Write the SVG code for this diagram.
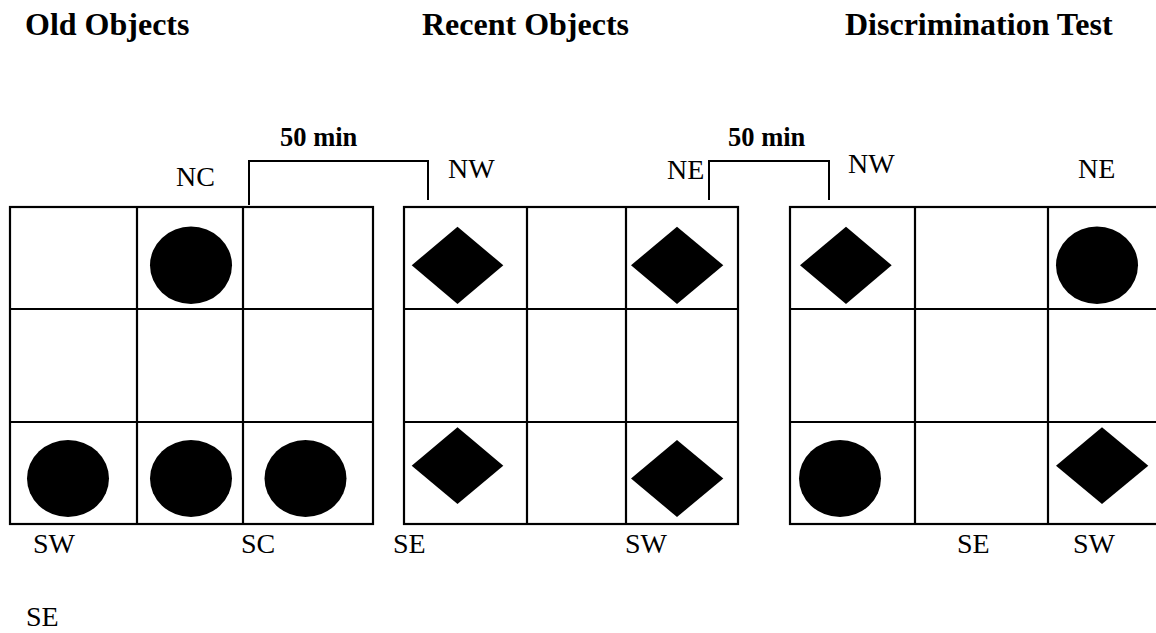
<svg xmlns="http://www.w3.org/2000/svg" width="1156" height="633" viewBox="0 0 1156 633">
<style>
.title{font-family:"Liberation Serif","Times New Roman",serif;font-weight:bold;font-size:32px;fill:#000}
.lbl{font-family:"Liberation Serif","Times New Roman",serif;font-size:28px;fill:#000}
.time{font-family:"Liberation Serif","Times New Roman",serif;font-weight:bold;font-size:26.5px;fill:#000}
.grid{fill:none;stroke:#000;stroke-width:2.2}
.obj{fill:#000}
.conn{fill:none;stroke:#000;stroke-width:2}
</style>
<rect width="1156" height="633" fill="#fff"/>
<g id="titles">
<text class="title" x="25" y="35">Old Objects</text>
<text class="title" x="422" y="35">Recent Objects</text>
<text class="title" x="845" y="35">Discrimination Test</text>
</g>
<g id="connectors">
<polyline class="conn" points="249,205 249,161 428,161 428,200"/>
<polyline class="conn" points="709,200 709,161 829,161 829,200"/>
<text class="time" x="280" y="146">50 min</text>
<text class="time" x="728" y="146">50 min</text>
</g>
<g id="old-objects">
<rect class="grid" x="10" y="207" width="363" height="317"/>
<line class="grid" x1="137" y1="207" x2="137" y2="524"/>
<line class="grid" x1="243" y1="207" x2="243" y2="524"/>
<line class="grid" x1="10" y1="309" x2="373" y2="309"/>
<line class="grid" x1="10" y1="422" x2="373" y2="422"/>
<ellipse class="obj" cx="191" cy="265.3" rx="41" ry="38.7"/>
<ellipse class="obj" cx="68" cy="478.5" rx="41" ry="38.5"/>
<ellipse class="obj" cx="191" cy="478.5" rx="41" ry="38.5"/>
<ellipse class="obj" cx="305.5" cy="478.5" rx="41" ry="38.5"/>
<text class="lbl" x="176" y="186">NC</text>
<text class="lbl" x="33" y="553">SW</text>
<text class="lbl" x="241" y="553">SC</text>
<text class="lbl" x="26" y="626">SE</text>
</g>
<g id="recent-objects">
<rect class="grid" x="404" y="207" width="334" height="317"/>
<line class="grid" x1="527" y1="207" x2="527" y2="524"/>
<line class="grid" x1="626" y1="207" x2="626" y2="524"/>
<line class="grid" x1="404" y1="309" x2="738" y2="309"/>
<line class="grid" x1="404" y1="422" x2="738" y2="422"/>
<polygon class="obj" points="411.7,265.3 457.5,226.7 503.3,265.3 457.5,304"/>
<polygon class="obj" points="631,265.3 677,226.7 723.3,265.3 677,304"/>
<polygon class="obj" points="411.7,465.7 457.5,427.3 503.3,465.7 457.5,504"/>
<polygon class="obj" points="631,478.5 677,440 723.3,478.5 677,517"/>
<text class="lbl" x="448" y="178">NW</text>
<text class="lbl" x="667" y="179">NE</text>
<text class="lbl" x="393" y="553">SE</text>
<text class="lbl" x="625" y="553">SW</text>
</g>
<g id="discrimination-test">
<rect class="grid" x="790" y="207" width="368" height="317"/>
<line class="grid" x1="915" y1="207" x2="915" y2="524"/>
<line class="grid" x1="1048" y1="207" x2="1048" y2="524"/>
<line class="grid" x1="790" y1="309" x2="1158" y2="309"/>
<line class="grid" x1="790" y1="422" x2="1158" y2="422"/>
<polygon class="obj" points="800,265.3 846,226.7 891.7,265.3 846,304"/>
<ellipse class="obj" cx="1097" cy="265.3" rx="41" ry="38.7"/>
<ellipse class="obj" cx="840" cy="478.5" rx="41" ry="38.5"/>
<polygon class="obj" points="1056,465.7 1102,427.3 1148.3,465.7 1102,504"/>
<text class="lbl" x="848" y="173">NW</text>
<text class="lbl" x="1078" y="178">NE</text>
<text class="lbl" x="957" y="553">SE</text>
<text class="lbl" x="1073" y="553">SW</text>
</g>
</svg>
